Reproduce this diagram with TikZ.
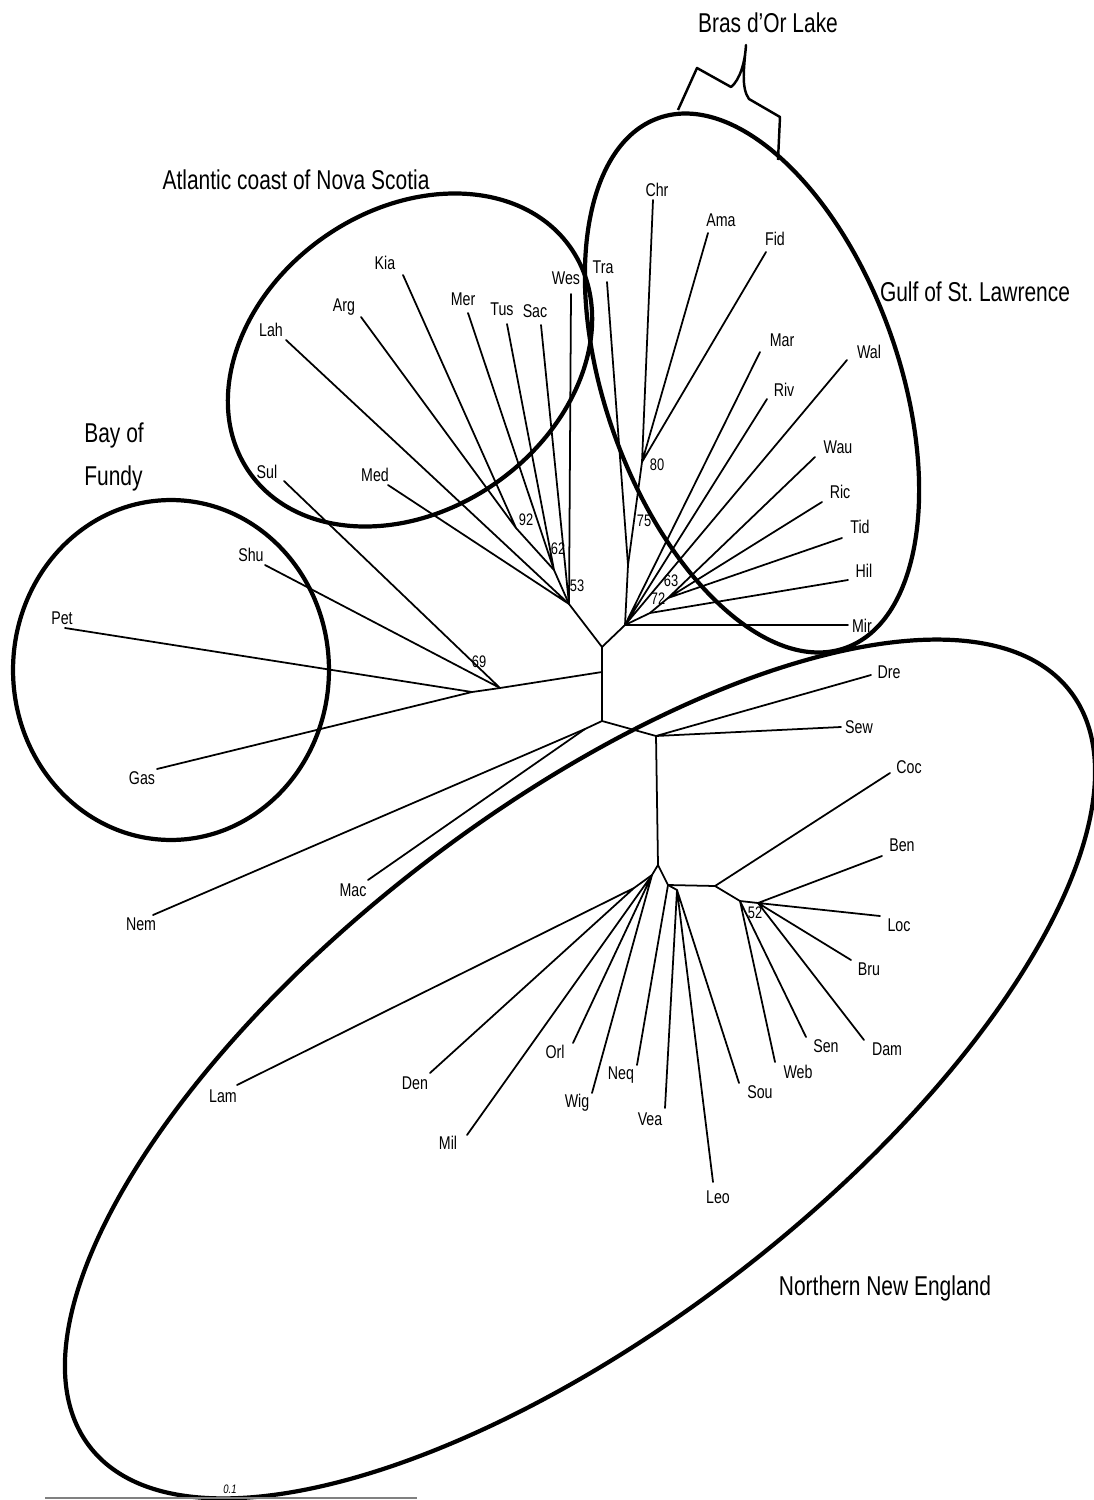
\documentclass[tikz,border=0pt]{standalone}
\usepackage{fontspec}
\setmainfont{Liberation Sans}[FakeStretch=0.77]
\usetikzlibrary{shapes.geometric}
\frenchspacing

\begin{document}
\begin{tikzpicture}[
    x=0.02cm, y=-0.02cm,
    branch/.style={line width=1pt, line cap=round},
    zone/.style={draw, ellipse, line width=2.4pt, inner sep=0pt},
    brace/.style={line width=1.4pt, line join=round},
    pop/.style={inner sep=0pt, font=\fontsize{10.5}{12}\selectfont},
    boot/.style={inner sep=0pt, font=\fontsize{9.5}{11}\selectfont},
    region/.style={inner sep=0pt, font=\fontsize{15.5}{24}\selectfont},
]
    \useasboundingbox (0,0) rectangle (1094,1500);

    % regions
    \node[zone, minimum width=7.84cm, minimum height=6cm, rotate=35] (atlantic) at (410,360) {};
    \node[zone, minimum width=5.88cm, minimum height=11.24cm, rotate=19.4] (gulf) at (752,383) {};
    \node[zone, minimum width=6.32cm, minimum height=6.8cm] (fundy) at (171,670) {};
    \node[zone, minimum width=24.76cm, minimum height=10.32cm, rotate=37.6] (newengland) at (580,1069) {};
    \draw[brace] (678,110) -- (697,68) -- (731,87) .. controls (740,80) and (745,62) .. (746,45)
        .. controls (744,68) and (741,88) .. (749,99) -- (780,117) -- (778,160);

    \node[region] (brasdor) at (768,23) {Bras d’Or Lake};
    \node[region] (atltitle) at (296,180) {Atlantic coast of Nova Scotia};
    \node[region] (gulftitle) at (975,292) {Gulf of St. Lawrence};
    \node[region, align=left, anchor=west] (fundytitle) at (84,457) {Bay of\\Fundy};
    \node[region] (netitle) at (885,1288) {Northern New England};

    % inner nodes
    \coordinate (nTop) at (602,647);
    \coordinate (nMid) at (602,672);
    \coordinate (nBot) at (602,721);
    \coordinate (n53) at (569,604);
    \coordinate (n62) at (554,570);
    \coordinate (n92) at (516,528);
    \coordinate (nGulf) at (625,625);
    \coordinate (n75) at (628,565);
    \coordinate (n80) at (642,462);
    \coordinate (n72) at (650,613);
    \coordinate (n63) at (668,598);
    \coordinate (n69) at (500,688);
    \coordinate (nPG) at (472,692);
    \coordinate (nNM) at (585,729);
    \coordinate (nNE1) at (656,736);
    \coordinate (nNE2) at (658,865);
    \coordinate (nW) at (652,875);
    \coordinate (nD) at (634,888);
    \coordinate (nB) at (668,885);
    \coordinate (nV) at (677,890);
    \coordinate (nC) at (715,886);
    \coordinate (n52a) at (740,901);
    \coordinate (n52) at (758,903);

    % leaf tips
    \coordinate (Wes) at (571,294);  \node[pop] (lWes) at (566,278) {Wes};
    \coordinate (Sac) at (541,325);  \node[pop] (lSac) at (535,311) {Sac};
    \coordinate (Tus) at (507,324);  \node[pop] (lTus) at (502,309) {Tus};
    \coordinate (Mer) at (468,313);  \node[pop] (lMer) at (463,299) {Mer};
    \coordinate (Kia) at (403,275);  \node[pop] (lKia) at (385,263) {Kia};
    \coordinate (Arg) at (361,317);  \node[pop] (lArg) at (344,307) {Arg};
    \coordinate (Lah) at (286,340);  \node[pop] (lLah) at (271,330) {Lah};
    \coordinate (Med) at (388,485);  \node[pop] (lMed) at (375,475) {Med};

    \coordinate (Tra) at (607,282);  \node[pop] (lTra) at (603,267) {Tra};
    \coordinate (Chr) at (653,200);  \node[pop] (lChr) at (657,190) {Chr};
    \coordinate (Ama) at (708,233);  \node[pop] (lAma) at (721,220) {Ama};
    \coordinate (Fid) at (766,252);  \node[pop] (lFid) at (775,239) {Fid};
    \coordinate (Mar) at (760,352);  \node[pop] (lMar) at (782,340) {Mar};
    \coordinate (Wal) at (847,360);  \node[pop] (lWal) at (869,352) {Wal};
    \coordinate (Riv) at (767,399);  \node[pop] (lRiv) at (784,390) {Riv};
    \coordinate (Wau) at (815,457);  \node[pop] (lWau) at (838,447) {Wau};
    \coordinate (Ric) at (822,502);  \node[pop] (lRic) at (840,492) {Ric};
    \coordinate (Tid) at (842,538);  \node[pop] (lTid) at (860,527) {Tid};
    \coordinate (Hil) at (848,580);  \node[pop] (lHil) at (864,571) {Hil};
    \coordinate (Mir) at (848,625);  \node[pop] (lMir) at (862,626) {Mir};

    \coordinate (Sul) at (284,481);  \node[pop] (lSul) at (267,472) {Sul};
    \coordinate (Shu) at (265,565);  \node[pop] (lShu) at (251,555) {Shu};
    \coordinate (Pet) at (65,628);   \node[pop] (lPet) at (62,618) {Pet};
    \coordinate (Gas) at (157,769);  \node[pop] (lGas) at (142,778) {Gas};

    \coordinate (Nem) at (153,915);  \node[pop] (lNem) at (141,924) {Nem};
    \coordinate (Mac) at (368,880);  \node[pop] (lMac) at (353,890) {Mac};
    \coordinate (Dre) at (871,675);  \node[pop] (lDre) at (889,672) {Dre};
    \coordinate (Sew) at (841,727);  \node[pop] (lSew) at (859,727) {Sew};
    \coordinate (Coc) at (890,773);  \node[pop] (lCoc) at (909,767) {Coc};
    \coordinate (Ben) at (882,856);  \node[pop] (lBen) at (902,845) {Ben};
    \coordinate (Loc) at (880,916);  \node[pop] (lLoc) at (899,925) {Loc};
    \coordinate (Bru) at (851,960);  \node[pop] (lBru) at (869,969) {Bru};
    \coordinate (Dam) at (864,1040); \node[pop] (lDam) at (887,1049) {Dam};
    \coordinate (Sen) at (806,1037); \node[pop] (lSen) at (826,1046) {Sen};
    \coordinate (Web) at (775,1062); \node[pop] (lWeb) at (798,1072) {Web};
    \coordinate (Sou) at (739,1083); \node[pop] (lSou) at (760,1092) {Sou};
    \coordinate (Leo) at (713,1182); \node[pop] (lLeo) at (718,1197) {Leo};
    \coordinate (Vea) at (665,1108); \node[pop] (lVea) at (650,1119) {Vea};
    \coordinate (Neq) at (637,1065); \node[pop] (lNeq) at (621,1075) {Neq};
    \coordinate (Wig) at (592,1093); \node[pop] (lWig) at (577,1103) {Wig};
    \coordinate (Orl) at (573,1043); \node[pop] (lOrl) at (555,1052) {Orl};
    \coordinate (Mil) at (467,1135); \node[pop] (lMil) at (448,1143) {Mil};
    \coordinate (Den) at (430,1073); \node[pop] (lDen) at (415,1083) {Den};
    \coordinate (Lam) at (237,1085); \node[pop] (lLam) at (223,1096) {Lam};

    % bootstrap values
    \node[boot] (b92) at (526,520) {92};
    \node[boot] (b62) at (558,549) {62};
    \node[boot] (b53) at (577,586) {53};
    \node[boot] (b80) at (657,465) {80};
    \node[boot] (b75) at (644,521) {75};
    \node[boot] (b63) at (671,581) {63};
    \node[boot] (b72) at (658,599) {72};
    \node[boot] (b69) at (479,662) {69};
    \node[boot] (b52) at (755,913) {52};

    % tree
    \draw[branch] (nTop) -- (nMid) -- (nBot);
    \draw[branch] (nTop) -- (n53);
    \draw[branch] (n53) -- (n62) -- (n92);
    \draw[branch] (n92) -- (Kia) (n92) -- (Arg);
    \draw[branch] (n62) -- (Mer) (n62) -- (Tus);
    \draw[branch] (n53) -- (Sac) (n53) -- (Wes) (n53) -- (Lah) (n53) -- (Med);

    \draw[branch] (nTop) -- (nGulf) -- (n75) -- (n80);
    \draw[branch] (n80) -- (Chr) (n80) -- (Ama) (n80) -- (Fid);
    \draw[branch] (n75) -- (Tra);
    \draw[branch] (nGulf) -- (Mar) (nGulf) -- (Riv) (nGulf) -- (Wal) (nGulf) -- (Mir);
    \draw[branch] (nGulf) -- (n72) -- (n63);
    \draw[branch] (n72) -- (Hil);
    \draw[branch] (n63) -- (Wau) (n63) -- (Ric) (n63) -- (Tid);

    \draw[branch] (nMid) -- (n69) -- (nPG);
    \draw[branch] (n69) -- (Sul) (n69) -- (Shu);
    \draw[branch] (nPG) -- (Pet) (nPG) -- (Gas);

    \draw[branch] (nBot) -- (nNM) -- (Nem);
    \draw[branch] (nNM) -- (Mac);
    \draw[branch] (nBot) -- (nNE1) -- (nNE2);
    \draw[branch] (nNE1) -- (Dre) (nNE1) -- (Sew);
    \draw[branch] (nNE2) -- (nW) -- (nD);
    \draw[branch] (nW) -- (Mil) (nW) -- (Orl) (nW) -- (Wig);
    \draw[branch] (nD) -- (Lam) (nD) -- (Den);
    \draw[branch] (nNE2) -- (nB) -- (nV);
    \draw[branch] (nB) -- (Neq);
    \draw[branch] (nV) -- (Vea) (nV) -- (Leo) (nV) -- (Sou);
    \draw[branch] (nB) -- (nC) -- (n52a) -- (n52);
    \draw[branch] (nC) -- (Coc);
    \draw[branch] (n52a) -- (Web) (n52a) -- (Sen);
    \draw[branch] (n52) -- (Ben) (n52) -- (Loc) (n52) -- (Bru) (n52) -- (Dam);

    % scale bar
    \coordinate (barL) at (45,1498);
    \coordinate (barR) at (417,1498);
    \draw[line width=1pt, gray] (barL) -- (barR);
    \node[inner sep=0pt, font=\fontsize{7}{8}\selectfont\itshape] (barlab) at (230,1489) {0.1};
\end{tikzpicture}
\end{document}
